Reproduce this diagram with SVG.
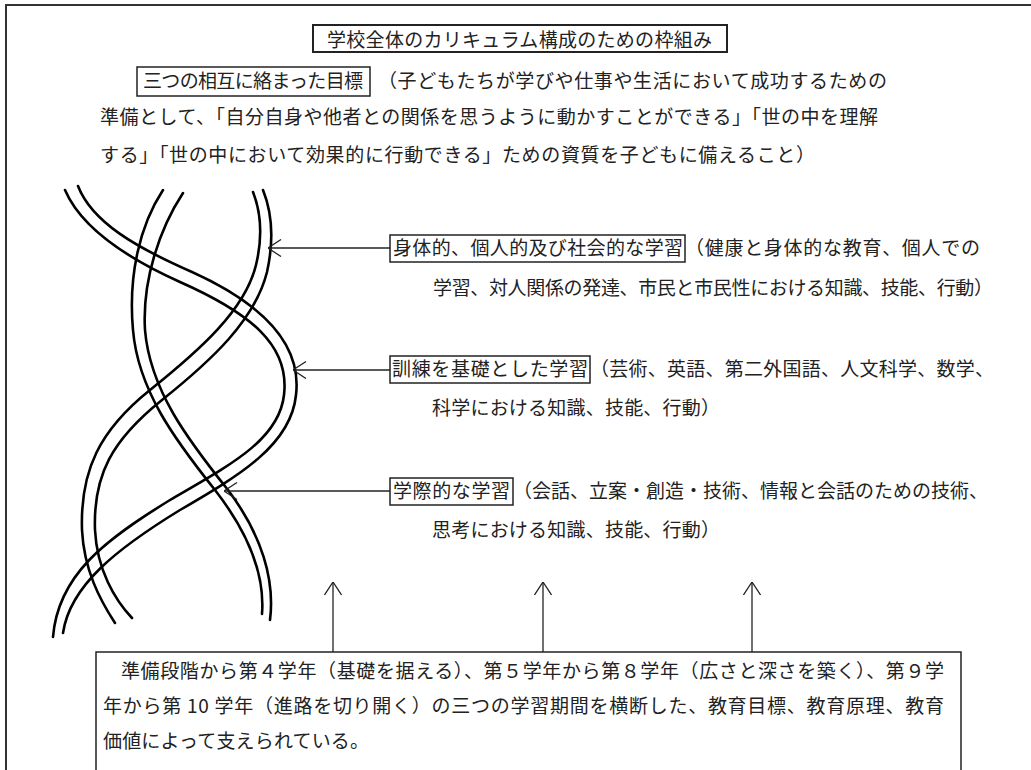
<svg xmlns="http://www.w3.org/2000/svg" width="1031" height="770" viewBox="0 0 1031 770">
<style>
text{font-family:"Noto Sans CJK JP","Noto Sans CJK SC",sans-serif;font-size:19px;fill:#222;}
.box{fill:none;stroke:#222;stroke-width:1.5;}
.strand{fill:none;stroke:#000;stroke-width:2.6;stroke-linecap:round;}
.conn{fill:none;stroke:#222;stroke-width:1.3;marker-end:url(#ah);}
</style>
<defs>
<marker id="ah" viewBox="0 0 14 18" refX="13.5" refY="9" markerWidth="14" markerHeight="18" markerUnits="userSpaceOnUse" orient="auto">
<path d="M0.5,0.5 L13.5,9 L0.5,17.5" fill="none" stroke="#222" stroke-width="1.3"/>
</marker>
</defs>
<rect width="1031" height="770" fill="#fff"/>
<g id="frame">
<path d="M1031,5 H6 V770" fill="none" stroke="#333" stroke-width="2"/>
</g>
<g id="title">
<rect x="313" y="25" width="414" height="27" fill="none" stroke="#222" stroke-width="2"/>
<text x="327" y="47" textLength="385">学校全体のカリキュラム構成のための枠組み</text>
</g>
<g id="goals">
<rect class="box" x="137" y="67" width="233" height="29"/>
<text x="143" y="88" textLength="220">三つの相互に絡まった目標</text>
<text x="378" y="88" textLength="509">（子どもたちが学びや仕事や生活において成功するための</text>
<text x="100" y="124" textLength="778">準備として、「自分自身や他者との関係を思うように動かすことができる」「世の中を理解</text>
<text x="100" y="162" textLength="715">する」「世の中において効果的に行動できる」ための資質を子どもに備えること）</text>
</g>
<g id="strands">
<path class="strand" d="M65,190 C80,225 120,255 180,282 C250,313 290,345 284,395 C279,440 230,465 170,500 C105,540 58,575 53,637"/>
<path class="strand" d="M78,186 C92,222 135,247 192,272 C265,305 302,345 296,395 C291,445 240,475 180,510 C118,548 70,585 63,633"/>
<path class="strand" d="M163,190 C140,225 128,275 133,330 C138,390 175,440 215,490 C250,535 265,575 262,614"/>
<path class="strand" d="M183,193 C160,228 142,280 145,330 C150,390 188,440 228,490 C262,535 275,580 270,620"/>
<path class="strand" d="M253,192 C262,215 262,240 256,265 C245,310 200,350 150,390 C100,430 80,470 82,530 C84,570 100,600 115,623"/>
<path class="strand" d="M263,190 C273,215 273,245 267,272 C255,320 212,360 162,400 C112,440 93,475 95,530 C97,570 115,600 132,618"/>
</g>
<g id="learning1">
<rect class="box" x="390" y="235" width="295" height="27"/>
<text x="393" y="255" textLength="290">身体的、個人的及び社会的な学習</text>
<text x="685" y="255" textLength="295">（健康と身体的な教育、個人での</text>
<text x="433" y="295" textLength="560">学習、対人関係の発達、市民と市民性における知識、技能、行動）</text>
</g>
<g id="learning2">
<rect class="box" x="390" y="356" width="200" height="27"/>
<text x="392" y="376" textLength="196">訓練を基礎とした学習</text>
<text x="590" y="376" textLength="404">（芸術、英語、第二外国語、人文科学、数学、</text>
<text x="432" y="415" textLength="288">科学における知識、技能、行動）</text>
</g>
<g id="learning3">
<rect class="box" x="390" y="478" width="123" height="27"/>
<text x="393" y="498" textLength="117">学際的な学習</text>
<text x="513" y="498" textLength="475">（会話、立案・創造・技術、情報と会話のための技術、</text>
<text x="432" y="537" textLength="288">思考における知識、技能、行動）</text>
</g>
<g id="basis">
<path d="M96,770 V652 H961 V770" fill="none" stroke="#222" stroke-width="1.5"/>
<text x="121" y="678" textLength="823">準備段階から第４学年（基礎を据える）、第５学年から第８学年（広さと深さを築く）、第９学</text>
<text x="103" y="713" textLength="841">年から第 10 学年（進路を切り開く）の三つの学習期間を横断した、教育目標、教育原理、教育</text>
<text x="103" y="748" textLength="266">価値によって支えられている。</text>
</g>
<g id="connectors">
<line class="conn" x1="390" y1="248" x2="268" y2="248"/>
<line class="conn" x1="390" y1="370" x2="293" y2="370"/>
<line class="conn" x1="390" y1="491" x2="224" y2="491"/>
<line class="conn" x1="333" y1="652" x2="333" y2="582"/>
<line class="conn" x1="543" y1="652" x2="543" y2="582"/>
<line class="conn" x1="752" y1="652" x2="752" y2="582"/>
</g>
</svg>
